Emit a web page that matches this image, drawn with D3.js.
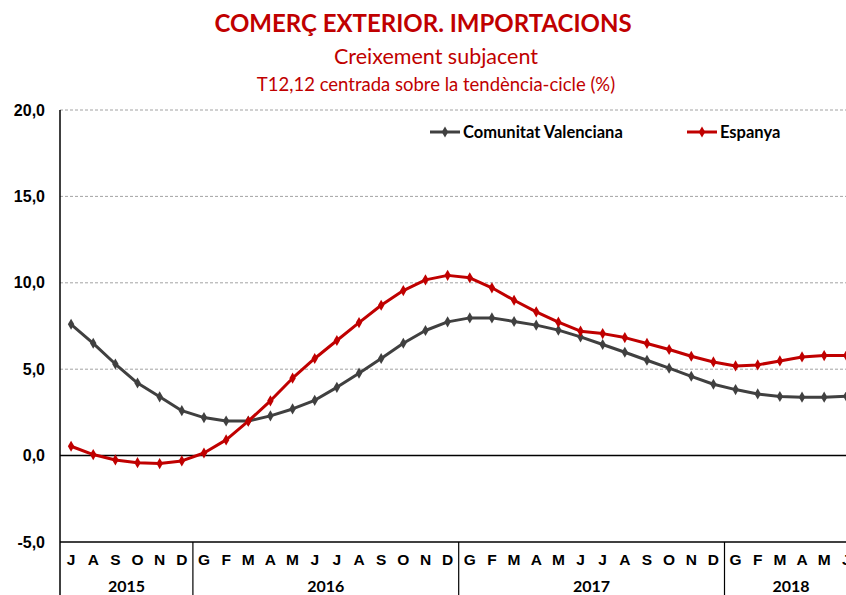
<!DOCTYPE html>
<html>
<head>
<meta charset="utf-8">
<script src="https://cdn.jsdelivr.net/npm/d3@7"></script>
<style>
  body { margin: 0; background: #fff; }
  svg { display: block; font-family: Lato, "Open Sans", sans-serif; }
</style>
</head>
<body>
<div id="chart"></div>
<script>
// months from Jul 2015 to Jun 2018
const monthLabels = ['J','A','S','O','N','D',
  'G','F','M','A','M','J','J','A','S','O','N','D',
  'G','F','M','A','M','J','J','A','S','O','N','D',
  'G','F','M','A','M','J'];
const years = ['2015', '2016', '2017', '2018'];
const yearMonths = [6, 12, 12, 6];

const valenciana = [7.6, 6.5, 5.3, 4.2, 3.4, 2.6,
  2.2, 2.0, 2.0, 2.3, 2.7, 3.2, 3.95, 4.77, 5.62, 6.5, 7.24, 7.74,
  7.97, 7.97, 7.76, 7.55, 7.26, 6.87, 6.43, 5.98, 5.52, 5.06, 4.59, 4.13,
  3.82, 3.57, 3.42, 3.38, 3.38, 3.43];
const espanya = [0.54, 0.06, -0.25, -0.41, -0.46, -0.31,
  0.15, 0.91, 1.99, 3.17, 4.48, 5.62, 6.66, 7.7, 8.7, 9.55, 10.17, 10.43,
  10.29, 9.71, 8.99, 8.32, 7.72, 7.2, 7.06, 6.83, 6.49, 6.14, 5.75, 5.42,
  5.19, 5.25, 5.48, 5.71, 5.79, 5.79];
const yTicks = [-5, 0, 5, 10, 15, 20];

const series = [
  {name: 'Comunitat Valenciana', values: valenciana, color: '#404040'},
  {name: 'Espanya', values: espanya, color: '#C00000'}
];

const width = 846, height = 595;
const margin = {top: 110, left: 60, bottom: 542};
const step = 22.15;

const locale = d3.formatLocale({decimal: ',', thousands: '.', grouping: [3], currency: ['', '€'], minus: '-'});
const fmt = locale.format('.1f');

const svg = d3.select('#chart').append('svg')
  .attr('width', width)
  .attr('height', height);

const x = d3.scaleBand()
  .domain(d3.range(monthLabels.length))
  .range([margin.left, margin.left + step * monthLabels.length]);

const y = d3.scaleLinear()
  .domain([-5, 20])
  .range([margin.bottom, margin.top]);

const plotRight = x.range()[1];

// titles
svg.append('text')
  .attr('x', 423).attr('y', 32)
  .attr('text-anchor', 'middle')
  .attr('fill', '#C00000')
  .style('font-size', '24px')
  .style('font-weight', 'bold')
  .text('COMERÇ EXTERIOR. IMPORTACIONS');

svg.append('text')
  .attr('x', 436).attr('y', 64)
  .attr('text-anchor', 'middle')
  .attr('fill', '#C00000')
  .style('font-size', '21.5px')
  .text('Creixement subjacent');

svg.append('text')
  .attr('x', 436).attr('y', 91)
  .attr('text-anchor', 'middle')
  .attr('fill', '#C00000')
  .style('font-size', '18.5px')
  .text('T12,12 centrada sobre la tendència-cicle (%)');

// gridlines
svg.append('g')
  .selectAll('line')
  .data(yTicks.filter(d => d > 0))
  .enter().append('line')
  .attr('x1', margin.left).attr('x2', plotRight)
  .attr('y1', d => y(d)).attr('y2', d => y(d))
  .attr('stroke', '#8c8c8c')
  .attr('stroke-width', 0.8)
  .attr('stroke-dasharray', '3,2');

// zero line
svg.append('line')
  .attr('x1', margin.left).attr('x2', plotRight)
  .attr('y1', y(0)).attr('y2', y(0))
  .attr('stroke', '#000').attr('stroke-width', 1.5);

// Y axis
const yAxis = d3.axisLeft(y).tickValues(yTicks).tickFormat(fmt).tickSize(0).tickPadding(15);
const gy = svg.append('g')
  .attr('transform', 'translate(' + margin.left + ',0)')
  .call(yAxis);
gy.select('.domain').remove();
gy.selectAll('text')
  .style('font-size', '16px')
  .style('font-weight', 'bold')
  .attr('fill', '#000');

// axis frame lines
svg.append('line')
  .attr('x1', margin.left).attr('x2', margin.left)
  .attr('y1', margin.top).attr('y2', height)
  .attr('stroke', '#000').attr('stroke-width', 1.5);
svg.append('line')
  .attr('x1', margin.left).attr('x2', plotRight)
  .attr('y1', margin.bottom).attr('y2', margin.bottom)
  .attr('stroke', '#000').attr('stroke-width', 1.5);

// X axis month labels
const xAxis = d3.axisBottom(x).tickFormat(i => monthLabels[i]).tickSize(0).tickPadding(12);
const gx = svg.append('g')
  .attr('transform', 'translate(0,' + margin.bottom + ')')
  .call(xAxis);
gx.select('.domain').remove();
gx.selectAll('text')
  .style('font-size', '15.5px')
  .style('font-weight', 'bold')
  .attr('fill', '#000');

// year groups
let start = 0;
years.forEach(function(yr, k) {
  const n = yearMonths[k];
  const x0 = x(start);
  const x1 = x(start + n - 1) + x.bandwidth();
  if (k > 0) {
    svg.append('line')
      .attr('x1', x0).attr('x2', x0)
      .attr('y1', margin.bottom).attr('y2', height)
      .attr('stroke', '#000').attr('stroke-width', 1.2);
  }
  svg.append('text')
    .attr('x', (x0 + x1) / 2)
    .attr('y', 592)
    .attr('text-anchor', 'middle')
    .style('font-size', '16px')
    .style('font-weight', 'bold')
    .text(yr);
  start += n;
});

// lines
const line = d3.line()
  .x((d, i) => x(i) + x.bandwidth() / 2)
  .y(d => y(d));

const diamond = d3.symbol().type(d3.symbolDiamond).size(36);

series.forEach(function(s) {
  svg.append('path')
    .attr('d', line(s.values))
    .attr('fill', 'none')
    .attr('stroke', s.color)
    .attr('stroke-width', 3)
    .attr('stroke-linejoin', 'round');

  svg.append('g')
    .selectAll('path')
    .data(s.values)
    .enter().append('path')
    .attr('d', diamond)
    .attr('transform', (d, i) => 'translate(' + (x(i) + x.bandwidth() / 2) + ',' + y(d) + ')')
    .attr('fill', s.color);
});

// legend
const legendX = [430, 687];
series.forEach(function(s, i) {
  const g = svg.append('g').attr('transform', 'translate(' + legendX[i] + ',132)');
  g.append('line')
    .attr('x1', 0).attr('x2', 30)
    .attr('stroke', s.color).attr('stroke-width', 3);
  g.append('path')
    .attr('d', diamond)
    .attr('transform', 'translate(15,0)')
    .attr('fill', s.color);
  g.append('text')
    .attr('x', 33).attr('y', 5.5)
    .style('font-size', '16.5px')
    .style('font-weight', 'bold')
    .text(s.name);
});
</script>
</body>
</html>
